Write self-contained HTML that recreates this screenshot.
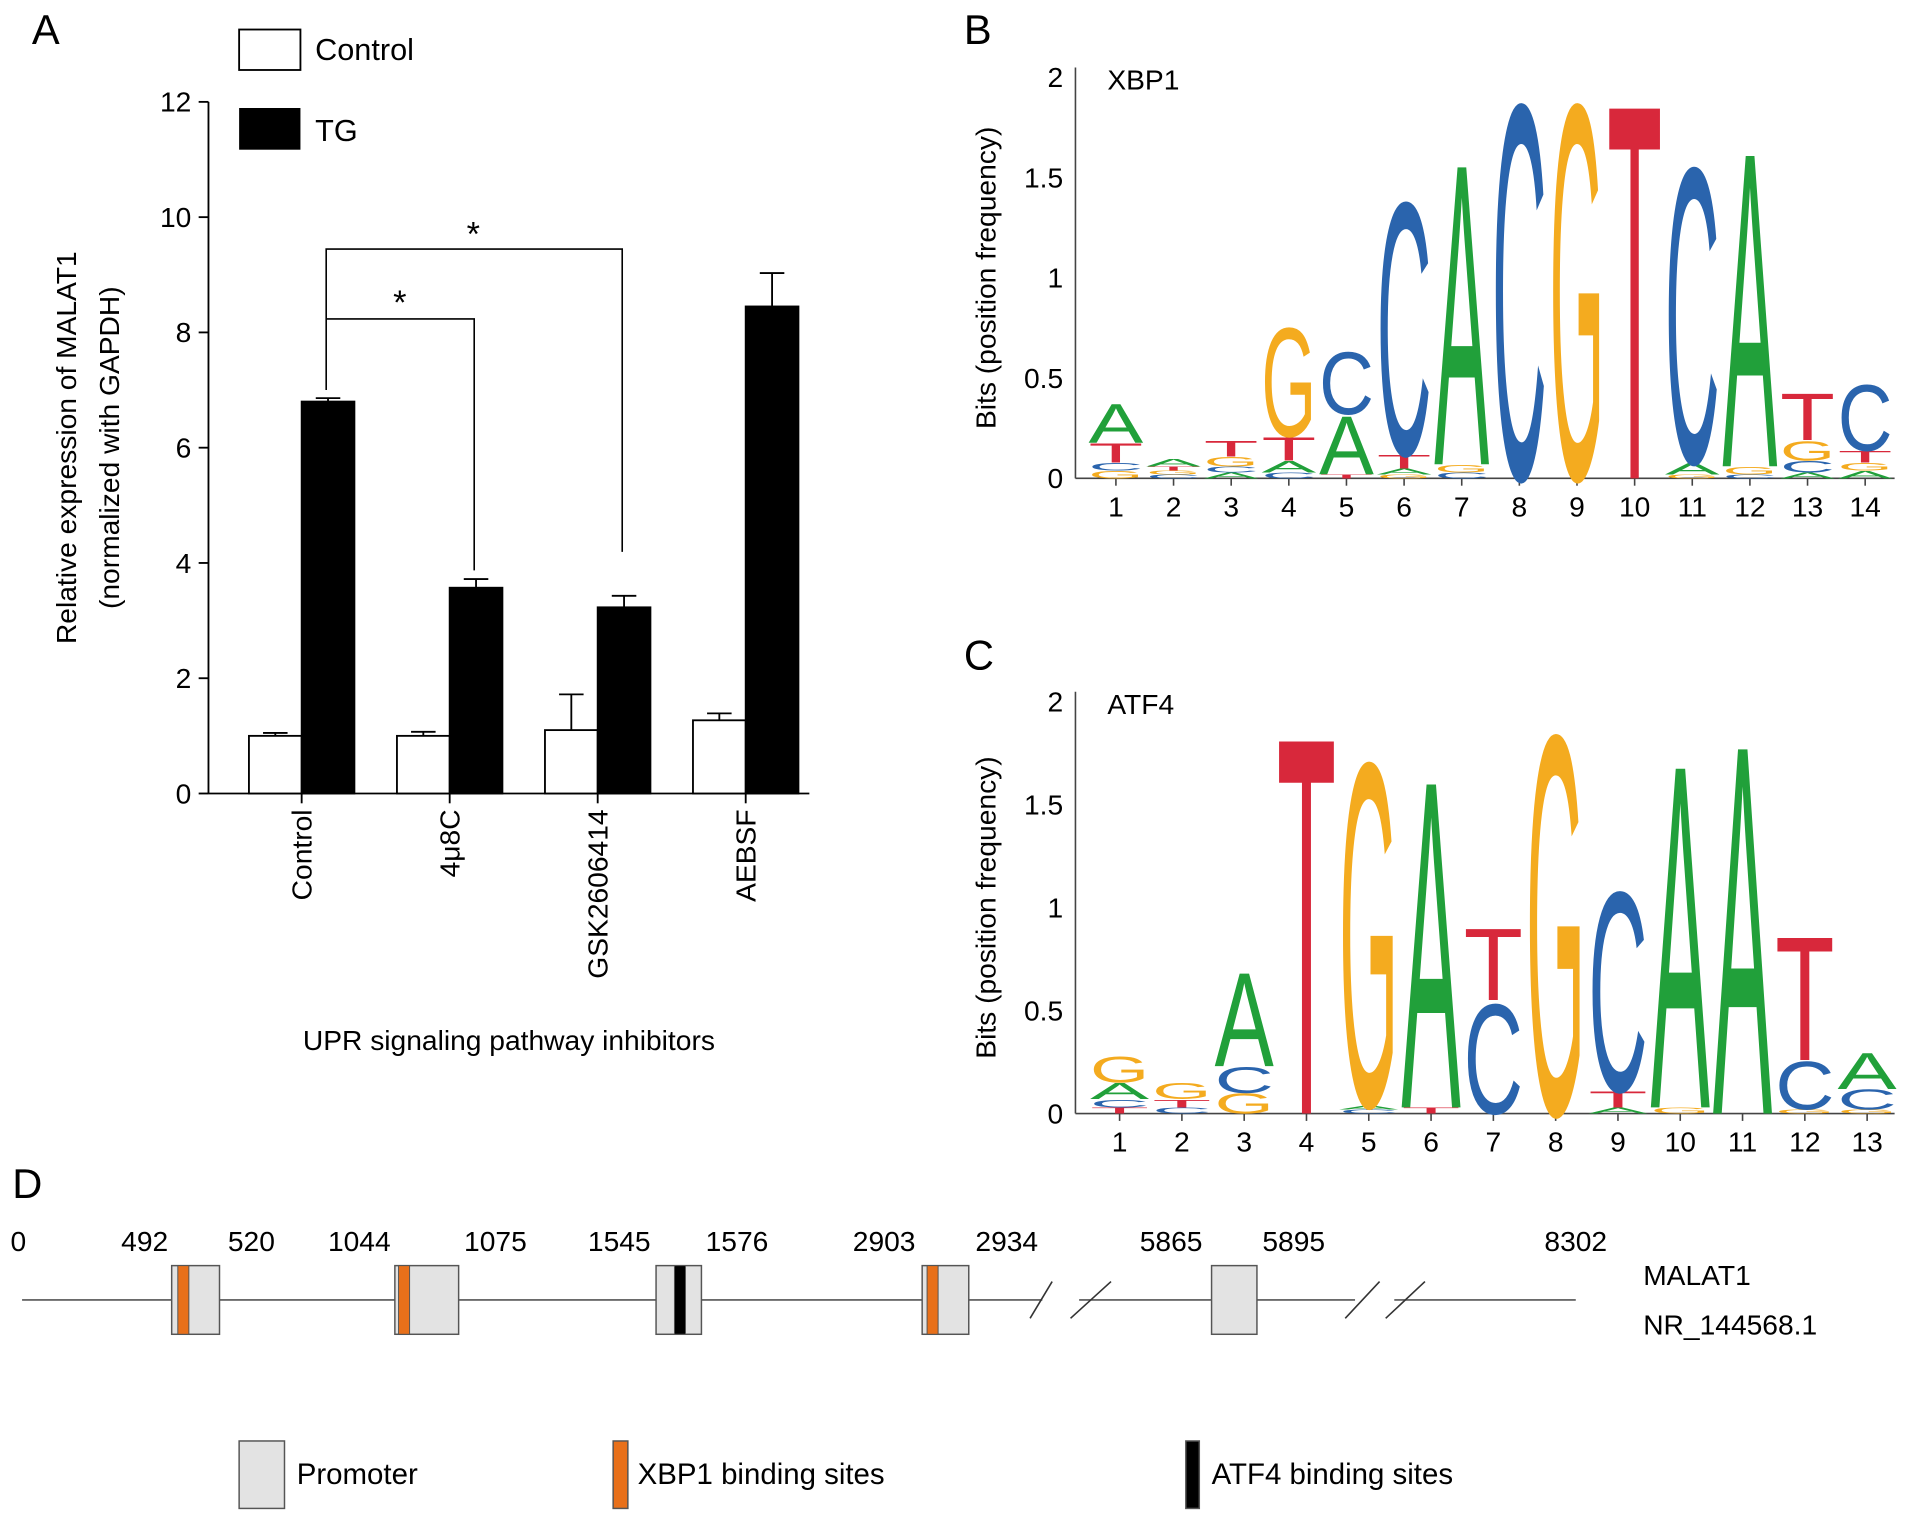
<!DOCTYPE html>
<html><head><meta charset="utf-8"><style>
html,body{margin:0;padding:0;background:#fff;}
svg{display:block;font-family:"Liberation Sans",sans-serif;}
</style></head><body>
<svg id="fig" width="1913" height="1522" viewBox="0 0 1560 1241" xmlns="http://www.w3.org/2000/svg">
<rect width="1560" height="1241" fill="#fff"/>
<g id="panelA"></g>
<g id="panelB"></g>
<g id="panelC"></g>
<g id="panelD"></g>
</svg>
<script>
// ---- Panel A data ----
const categories = ["Control", "4\u03bc8C", "GSK2606414", "AEBSF"];
const controlValues = [1.0, 1.0, 1.1, 1.27];
const controlErrors = [0.05, 0.07, 0.62, 0.12];
const tgValues = [6.8, 3.57, 3.23, 8.45];
const tgErrors = [0.06, 0.15, 0.2, 0.58];
const yTicks = [0, 2, 4, 6, 8, 10, 12];
// ---- Panel B / C data (letters bottom->top, heights in bits) ----
const xbp1Letters = [
 [["G",0.04],["C",0.04],["T",0.1],["A",0.2]],
 [["C",0.02],["G",0.02],["T",0.02],["A",0.04]],
 [["A",0.03],["C",0.03],["G",0.05],["T",0.08]],
 [["C",0.03],["A",0.06],["T",0.12],["G",0.56]],
 [["T",0.02],["A",0.3],["C",0.32]],
 [["G",0.02],["A",0.03],["T",0.07],["C",1.3]],
 [["C",0.03],["G",0.04],["A",1.55]],
 [["C",1.93]],
 [["G",1.93]],
 [["T",1.93]],
 [["G",0.02],["A",0.06],["C",1.52]],
 [["C",0.02],["G",0.04],["A",1.62]],
 [["A",0.03],["C",0.06],["G",0.1],["T",0.24]],
 [["A",0.04],["G",0.04],["T",0.06],["C",0.34]]
];
const atf4Letters = [
 [["T",0.03],["C",0.04],["A",0.08],["G",0.13]],
 [["C",0.03],["T",0.04],["G",0.08]],
 [["G",0.1],["C",0.13],["A",0.47]],
 [["T",1.89]],
 [["C",0.02],["A",0.02],["G",1.72]],
 [["T",0.03],["A",1.64]],
 [["C",0.55],["T",0.36]],
 [["G",1.9]],
 [["A",0.03],["T",0.08],["C",1.0]],
 [["G",0.03],["A",1.72]],
 [["A",1.85]],
 [["G",0.02],["C",0.24],["T",0.62]],
 [["G",0.02],["C",0.1],["A",0.18]]
];
const logoYTicks = [0, 0.5, 1, 1.5, 2];
const logoYTickLabels = ["0", "0.5", "1", "1.5", "2"];
// ---- Panel D data ----
const mapLabels = ["0","492","520","1044","1075","1545","1576","2903","2934","5865","5895","8302"];

const NS="http://www.w3.org/2000/svg";
function mk(parent,tag,attrs,text){const e=document.createElementNS(NS,tag);for(const k in attrs)e.setAttribute(k,attrs[k]);if(text!==undefined)e.textContent=text;parent.appendChild(e);return e;}
const colors={A:"#21a03a",C:"#2a64ad",G:"#f4ab1f",T:"#d8283b"};

// ===== Panel A =====
(function(){
 const g=document.getElementById('panelA');
 const x0=170,yb=647,yt=83,ymax=12;
 const y=v=>yb-(v/ymax)*(yb-yt);
 const cx=i=>246+i*120.7;
 let t=mk(g,'text',{x:26,y:36,'font-size':34},'A');
 
 let ax=mk(g,'line',{x1:x0,y1:yt,x2:x0,y2:yb,stroke:'#000','stroke-width':1.5});
 
 let bx=mk(g,'line',{x1:x0,y1:yb,x2:660,y2:yb,stroke:'#000','stroke-width':1.5});
 
 yTicks.forEach(v=>{
  mk(g,'line',{x1:x0-8,y1:y(v),x2:x0,y2:y(v),stroke:'#000','stroke-width':1.5});
  const tl=mk(g,'text',{x:x0-14,y:y(v)+8,'font-size':23,'text-anchor':'end'},String(v));
  
 });
 categories.forEach((c,i)=>{
  const c0=cx(i);
  mk(g,'line',{x1:c0,y1:yb,x2:c0,y2:yb+8,stroke:'#000','stroke-width':1.5});
  const specs=[[controlValues[i],controlErrors[i],c0-43,'#fff','bar-control'],[tgValues[i],tgErrors[i],c0,'#000','bar-tg']];
  specs.forEach(([v,e,xl,fill,nm])=>{
   const r=mk(g,'rect',{x:xl,y:y(v),width:43,height:yb-y(v),fill:fill,stroke:'#000','stroke-width':1.5});
   
   const xm=xl+21.5;
   mk(g,'line',{x1:xm,y1:y(v),x2:xm,y2:y(v+e),stroke:'#000','stroke-width':1.5});
   mk(g,'line',{x1:xm-10,y1:y(v+e),x2:xm+10,y2:y(v+e),stroke:'#000','stroke-width':1.5});
  });
  const xl=mk(g,'text',{x:0,y:0,'font-size':23,'text-anchor':'end',transform:`translate(${c0+8},${yb+13}) rotate(-90)`},c);
  
 });
 // significance brackets
 const br=mk(g,'path',{d:`M${cx(0)+20},${y(tgValues[0]+0.2)} V203 H${cx(2)+20} V450 M${cx(0)+20},260 H${cx(1)+20} V465`,fill:'none',stroke:'#000','stroke-width':1.3});
 
 mk(g,'text',{x:386,y:200,'font-size':28,'text-anchor':'middle'},'*');
 mk(g,'text',{x:326,y:256,'font-size':28,'text-anchor':'middle'},'*');
 const yt1=mk(g,'text',{x:0,y:0,'font-size':23,'text-anchor':'middle',transform:'translate(62,365) rotate(-90)'},'Relative expression of MALAT1');
 
 mk(g,'text',{x:0,y:0,'font-size':23,'text-anchor':'middle',transform:'translate(97,365) rotate(-90)'},'(normalized with GAPDH)');
 const xt=mk(g,'text',{x:415,y:856,'font-size':23,'text-anchor':'middle'},'UPR signaling pathway inhibitors');
 
 const l1=mk(g,'rect',{x:195,y:24,width:50,height:33,fill:'#fff',stroke:'#000','stroke-width':1.5});
 
 const l2=mk(g,'rect',{x:195,y:88,width:50,height:34,fill:'#000'});
 
 const lt1=mk(g,'text',{x:257,y:49,'font-size':25},'Control');
 
 const lt2=mk(g,'text',{x:257,y:115,'font-size':25},'TG');
 
})();

// ===== Logos =====
function drawLogo(gid,label,letters,name,y0,y2,xFirst,step,panelLetterY){
 const g=document.getElementById(gid);
 const ax0=877;
 const y=v=>y0-(v/2)*(y0-y2);
 const x=i=>xFirst+i*step;
 const pl=mk(g,'text',{x:786,y:panelLetterY,'font-size':34},label);
 
 const ya=mk(g,'line',{x1:ax0,y1:y2-8,x2:ax0,y2:y0,stroke:'#444','stroke-width':1.3});
 
 const xa=mk(g,'line',{x1:ax0,y1:y0,x2:1545,y2:y0,stroke:'#444','stroke-width':1.3});
 
 logoYTicks.forEach((v,k)=>{
  const tl=mk(g,'text',{x:ax0-10,y:y(v)+8,'font-size':23,'text-anchor':'end'},logoYTickLabels[k]);
  
 });
 letters.forEach((stack,i)=>{
  mk(g,'line',{x1:x(i),y1:y0,x2:x(i),y2:y0+6,stroke:'#444','stroke-width':1.3});
  const tl=mk(g,'text',{x:x(i),y:y0+31,'font-size':23,'text-anchor':'middle'},String(i+1));
  
  let acc=0;
  stack.forEach(([L,h])=>{
   const bot=y(acc),top=y(acc+h);acc+=h;
   const ph=bot-top; if(ph<0.5)return;
   const w=step*0.95;
   const tx=mk(g,'text',{x:0,y:0,'font-size':100,'fill':colors[L],textLength:w/(1),lengthAdjust:'spacingAndGlyphs',
     transform:`translate(${x(i)-w/2},${bot}) scale(1,${ph/72})`},L);
   
  });
 });
 const yt=mk(g,'text',{x:0,y:0,'font-size':23,'text-anchor':'middle',transform:`translate(812,${(y0+y2)/2}) rotate(-90)`},'Bits (position frequency)');
 
 const nm=mk(g,'text',{x:903,y:y2+10,'font-size':23},name);
 
}
drawLogo('panelB','B',xbp1Letters,'XBP1',390,63,910,47.0,36);
drawLogo('panelC','C',atf4Letters,'ATF4',908,572,913,50.8,546);

// ===== Panel D =====
(function(){
 const g=document.getElementById('panelD');
 const pl=mk(g,'text',{x:10,y:977,'font-size':34},'D');
 
 const ly=1060;
 const segs=[[18,850],[880,1105],[1137,1285]];
 segs.forEach(s=>{const l=mk(g,'line',{x1:s[0],y1:ly,x2:s[1],y2:ly,stroke:'#555','stroke-width':1.3});
  });
 [[840,1075,858,1045],[873,1075,906,1045],[1097,1075,1125,1045],[1130,1075,1162,1045]].forEach(a=>mk(g,'line',{x1:a[0],y1:a[1],x2:a[2],y2:a[3],stroke:'#333','stroke-width':1.3}));
 const boxes=[[140,179,'o',145],[322,374,'o',325],[535,572,'k',550],[752,790,'o',756],[988,1025,null,0]];
 boxes.forEach(b=>{
  const r=mk(g,'rect',{x:b[0],y:1032,width:b[1]-b[0],height:56,fill:'#e3e3e3',stroke:'#555','stroke-width':1.2});
  
  if(b[2]){const s=mk(g,'rect',{x:b[3],y:1032,width:9,height:56,fill:b[2]=='o'?'#e8701a':'#000',stroke:'#555','stroke-width':0.8});
   }
 });
 const lx=[15,118,205,293,404,505,601,721,821,955,1055,1285];
 mapLabels.forEach((t,i)=>{const e=mk(g,'text',{x:lx[i],y:1020,'font-size':23,'text-anchor':'middle'},t);
  });
 const g1=mk(g,'text',{x:1340,y:1048,'font-size':23},'MALAT1');
 
 const g2=mk(g,'text',{x:1340,y:1088,'font-size':23},'NR_144568.1');
 
 const items=[[195,37,'#e3e3e3','Promoter',242],[500,12,'#e8701a','XBP1 binding sites',520],[967,11,'#000','ATF4 binding sites',988]];
 items.forEach(it=>{
  const r=mk(g,'rect',{x:it[0],y:1175,width:it[1],height:55,fill:it[2],stroke:'#555','stroke-width':1.2});
  
  const t=mk(g,'text',{x:it[4],y:1210,'font-size':24},it[3]);
  
 });
})();
</script>
</body></html>
